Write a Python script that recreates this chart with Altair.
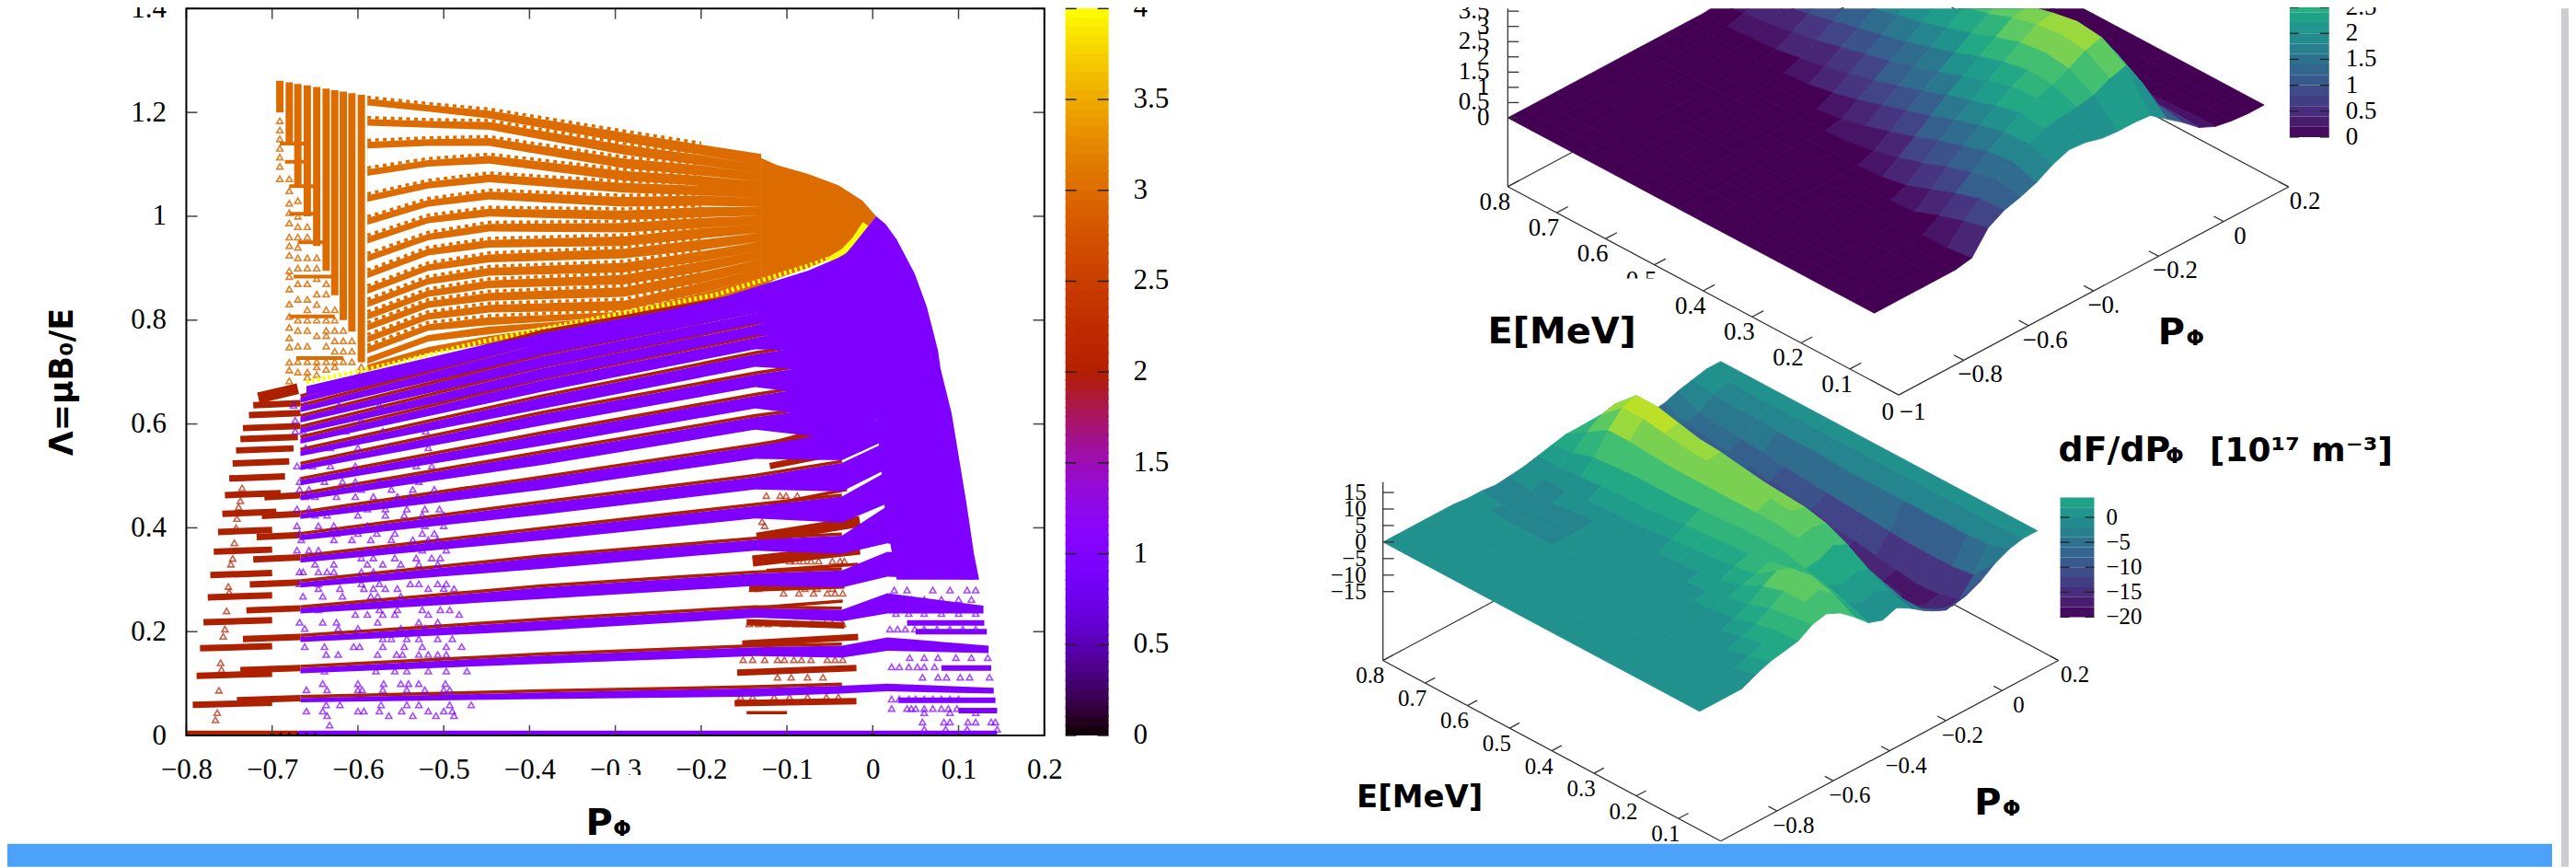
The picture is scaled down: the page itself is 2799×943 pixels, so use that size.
import math
import altair as alt
import pandas as pd

W, H = 2791, 935
M = 8
SERIF = "Liberation Serif"
BOLD = "DejaVu Sans"
PURPLE, RED, ORANGE, YELLOW = "#7f00ff", "#ae2100", "#dc6b00", "#ffff00"

# ---------- left panel data (P_phi, Lambda) ----------
band_P = [-0.667, -0.386, -0.137, -0.036, 0.017]
band_top = [
    [0.072, 0.083, 0.091, 0.096, 0.100], [0.130, 0.154, 0.170, 0.173, 0.189],
    [0.190, 0.221, 0.245, 0.242, 0.274], [0.245, 0.285, 0.312, 0.318, 0.354],
    [0.295, 0.343, 0.377, 0.385, 0.442], [0.343, 0.396, 0.442, 0.460, 0.509],
    [0.386, 0.447, 0.498, 0.525, 0.566], [0.427, 0.495, 0.557, 0.585, 0.615],
    [0.463, 0.543, 0.613, 0.635, 0.663], [0.492, 0.580, 0.654, 0.680, 0.710],
    [0.521, 0.619, 0.695, 0.720, 0.750], [0.548, 0.651, 0.734, 0.760, 0.790],
    [0.572, 0.684, 0.766, 0.800, 0.830], [0.592, 0.707, 0.790, 0.830, 0.860],
    [0.613, 0.730, 0.813, 0.855, 0.890], [0.633, 0.755, 0.833, 0.875, 0.920],
    [0.651, 0.775, 0.850, 0.895, 0.950],
]
band_bot = [
    [0.064, 0.070, 0.075, 0.081, 0.085], [0.120, 0.138, 0.153, 0.150, 0.163],
    [0.180, 0.202, 0.227, 0.220, 0.235], [0.235, 0.263, 0.288, 0.285, 0.306],
    [0.285, 0.321, 0.356, 0.350, 0.370], [0.333, 0.376, 0.418, 0.410, 0.447],
    [0.376, 0.425, 0.474, 0.470, 0.514], [0.417, 0.473, 0.533, 0.530, 0.570],
    [0.453, 0.521, 0.589, 0.570, 0.620], [0.482, 0.558, 0.630, 0.610, 0.667],
    [0.511, 0.597, 0.671, 0.650, 0.712], [0.538, 0.629, 0.710, 0.700, 0.750],
    [0.562, 0.662, 0.744, 0.740, 0.790], [0.582, 0.686, 0.770, 0.775, 0.825],
    [0.603, 0.709, 0.793, 0.800, 0.860], [0.623, 0.733, 0.813, 0.820, 0.890],
    [0.641, 0.755, 0.830, 0.840, 0.920],
]
right_P = [0.141, 0.135, 0.129, 0.118, 0.110]
right_top = [0.092, 0.173, 0.250, 0.341, 0.412]
right_bot = [0.081, 0.159, 0.235, 0.300, 0.340]

cap_P = [-0.66, -0.447, -0.29, -0.183, -0.076, -0.033, 0.0]
cap_top = [0.673, 0.755, 0.800, 0.840, 0.895, 0.925, 0.985]
cap_bot = [0.655, 0.735, 0.780, 0.815, 0.860, 0.890, 0.950]

hull_P = [-0.05, -0.03, -0.012, 0.004, 0.015, 0.028, 0.049, 0.063, 0.076, 0.079, 0.092, 0.10, 0.109, 0.118, 0.124]
hull_top = [0.91, 0.93, 0.967, 1.0, 0.985, 0.955, 0.889, 0.826, 0.742, 0.707, 0.62, 0.54, 0.45, 0.35, 0.30]
hull_bot = [0.86, 0.78, 0.70, 0.62, 0.42, 0.30, 0.30, 0.30, 0.30, 0.30, 0.30, 0.30, 0.30, 0.30, 0.30]

strip_P = [-0.7925, -0.788, -0.784, -0.78, -0.775, -0.772, -0.768, -0.763, -0.758, -0.755, -0.75, -0.746, -0.742, -0.737, -0.734, -0.727, -0.722]
strip_L = [0.059, 0.115, 0.168, 0.218, 0.266, 0.309, 0.354, 0.392, 0.427, 0.463, 0.495, 0.524, 0.549, 0.571, 0.592, 0.617, 0.636]
strip_end = [-0.70, -0.70, -0.70, -0.70, -0.70, -0.70, -0.70, -0.70, -0.695, -0.69, -0.685, -0.68, -0.675, -0.67, -0.667, -0.667, -0.667]
main_P = [-0.741, -0.737, -0.734, -0.73, -0.726, -0.722, -0.718, -0.712, -0.709]

blocks_thick = [  # P0, L0, P1, L1
    (-0.161, 0.062, -0.019, 0.066), (-0.158, 0.121, -0.019, 0.130), (-0.152, 0.177, -0.017, 0.190),
    (-0.144, 0.283, -0.033, 0.289), (-0.147, 0.218, -0.033, 0.212), (-0.12, 0.519, -0.012, 0.554),
]
blocks_wedge = [
    (-0.14, 0.336, -0.015, 0.359), (-0.135, 0.38, -0.015, 0.412), (-0.115, 0.557, -0.019, 0.601),
    (-0.094, 0.616, -0.019, 0.654), (-0.716, 0.650, -0.67, 0.668),
]
blocks_thin = [
    (-0.147, 0.044, -0.10, 0.044), (-0.129, 0.247, -0.035, 0.259), (-0.124, 0.318, -0.017, 0.330),
    (-0.119, 0.445, -0.03, 0.474), (-0.104, 0.666, -0.013, 0.704), (-0.094, 0.707, -0.022, 0.74),
    (-0.09, 0.742, -0.03, 0.778),
]
purple_rows = [(0.048, 0.10, 0.145), (0.068, 0.03, 0.143), (0.130, 0.08, 0.138), (0.200, 0.05, 0.133), (0.217, 0.04, 0.130)]

curve_P = [-0.589, -0.518, -0.447, -0.29, -0.2, -0.13]
curve_thick = [0.0125, 0.0125, 0.015, 0.0185, 0.0195, 0.03]
curves = [
    [1.220, 1.208, 1.196, 1.152, 1.128, 1.105], [1.181, 1.177, 1.174, 1.128, 1.108, 1.090], [1.137, 1.142, 1.143, 1.102, 1.088, 1.075],
    [1.084, 1.102, 1.109, 1.078, 1.068, 1.059], [1.034, 1.060, 1.073, 1.055, 1.050, 1.043], [0.990, 1.025, 1.040, 1.028, 1.030, 1.027],
    [0.954, 0.993, 1.007, 1.002, 1.008, 1.010], [0.919, 0.960, 0.978, 0.978, 0.987, 0.993], [0.887, 0.931, 0.947, 0.952, 0.967, 0.977],
    [0.857, 0.901, 0.919, 0.928, 0.945, 0.960], [0.831, 0.875, 0.893, 0.901, 0.923, 0.943], [0.807, 0.851, 0.869, 0.878, 0.903, 0.926],
    [0.786, 0.830, 0.845, 0.854, 0.882, 0.909], [0.763, 0.807, 0.822, 0.828, 0.862, 0.890], [0.742, 0.786, 0.798, 0.807, 0.842, 0.872],
    [0.722, 0.765, 0.780, 0.806, 0.842, 0.872], [0.708, 0.742, 0.762, 0.805, 0.842, 0.872],
]
fan_P = [-0.13, -0.112, -0.076, -0.04, -0.012, 0.004]
fan_top = [1.112, 1.099, 1.082, 1.06, 1.03, 1.0]
fan_bot = [0.864, 0.88, 0.90, 0.925, 0.967, 1.0]

col_P = [-0.691, -0.68, -0.67, -0.659, -0.648, -0.637, -0.627, -0.617, -0.607, -0.596]
col_top = [1.261, 1.258, 1.255, 1.252, 1.249, 1.246, 1.243, 1.24, 1.237, 1.234]
col_bot = [1.20, 1.143, 1.06, 1.0, 0.943, 0.895, 0.848, 0.80, 0.778, 0.719]
orange_bars = [(1.14, -0.691, -0.657), (1.105, -0.685, -0.657), (1.058, -0.68, -0.645), (1.005, -0.68, -0.645),
               (0.95, -0.67, -0.637), (0.884, -0.675, -0.627), (0.807, -0.68, -0.627), (0.727, -0.672, -0.617)]
orange_cols = {
    -0.691: [1.184, 1.166, 1.149, 1.131, 1.114, 1.096, 1.072],
    -0.68: [1.072, 1.049, 1.025, 1.007, 0.987, 0.96, 0.943, 0.925, 0.895, 0.884, 0.86, 0.831, 0.807, 0.786, 0.766, 0.748, 0.719, 0.704, 0.683],
    -0.67: [1.03, 1.0, 0.98, 0.96, 0.94, 0.92, 0.90, 0.87, 0.84, 0.80, 0.78, 0.75, 0.72, 0.70],
    -0.659: [0.98, 0.96, 0.92, 0.90, 0.87, 0.84, 0.82, 0.80, 0.78, 0.75, 0.72, 0.70, 0.69],
    -0.648: [0.92, 0.90, 0.88, 0.85, 0.83, 0.80, 0.77, 0.72, 0.71, 0.695],
    -0.637: [0.87, 0.85, 0.82, 0.80, 0.78, 0.77, 0.75, 0.72, 0.705],
    -0.627: [0.82, 0.80, 0.78, 0.76, 0.74, 0.72, 0.71],
    -0.617: [0.78, 0.76, 0.74, 0.72],
    -0.607: [0.76, 0.74, 0.72],
    -0.596: [0.71, 0.70],
}
yellow_P = [-0.66, -0.6, -0.54, -0.457, -0.397, -0.35, -0.268, -0.183, -0.076, -0.05]
yellow_L = [0.681, 0.701, 0.724, 0.758, 0.779, 0.794, 0.821, 0.849, 0.904, 0.919]
yellow_solid_P = [-0.05, -0.033, -0.02, -0.008]
yellow_solid_L = [0.915, 0.932, 0.955, 0.985]

purple_tri = {
    0.020: [-0.633], 0.038: [-0.636, -0.564, -0.536, -0.509, -0.488],
    0.047: [-0.66, -0.641, -0.6, -0.593, -0.575, -0.549, -0.518, -0.5, -0.49],
    0.059: [-0.637, -0.621, -0.573, -0.543, -0.529, -0.493, -0.468],
    0.088: [-0.66, -0.636, -0.6, -0.595, -0.571, -0.543, -0.522, -0.5, -0.493],
    0.100: [-0.641, -0.6, -0.57, -0.55, -0.541, -0.529, -0.498],
    0.112: [-0.668, -0.639, -0.621, -0.605, -0.575, -0.568, -0.529],
    0.124: [-0.639, -0.579, -0.557, -0.543, -0.518, -0.497, -0.473],
    0.156: [-0.637, -0.623, -0.577, -0.555, -0.548, -0.529, -0.518, -0.507, -0.497],
    0.171: [-0.662, -0.639, -0.605, -0.598, -0.571, -0.546, -0.525, -0.497, -0.479],
    0.186: [-0.571, -0.561, -0.543, -0.529, -0.507, -0.49],
    0.206: [-0.662, -0.623, -0.6, -0.55, -0.522, -0.482],
    0.218: [-0.668, -0.641, -0.625, -0.577, -0.529, -0.507],
    0.233: [-0.603, -0.589, -0.571, -0.557, -0.518, -0.482],
    0.242: [-0.646, -0.575, -0.554, -0.525, -0.504, -0.493],
    0.268: [-0.664, -0.641, -0.618, -0.585, -0.577, -0.55],
    0.283: [-0.646, -0.621, -0.593, -0.582, -0.568, -0.554, -0.518, -0.5, -0.488],
    0.292: [-0.668, -0.646, -0.596, -0.575, -0.539, -0.529, -0.507, -0.497],
    0.315: [-0.668, -0.664, -0.646, -0.636, -0.628, -0.596, -0.582, -0.554, -0.511, -0.491],
    0.330: [-0.65, -0.628, -0.589, -0.571, -0.55, -0.529, -0.507],
    0.342: [-0.596, -0.582, -0.557, -0.532, -0.514, -0.504],
    0.357: [-0.671, -0.657, -0.646, -0.589, -0.561, -0.525, -0.497],
    0.377: [-0.666, -0.628, -0.607, -0.585, -0.561, -0.536, -0.518, -0.507],
    0.389: [-0.668, -0.625, -0.6, -0.578, -0.557, -0.525, -0.511],
    0.404: [-0.671, -0.646, -0.628, -0.589, -0.568, -0.55, -0.522, -0.5],
    0.424: [-0.65, -0.636, -0.6, -0.568, -0.546, -0.525, -0.5],
    0.436: [-0.671, -0.657, -0.618, -0.589, -0.568, -0.543, -0.522, -0.505],
    0.460: [-0.661, -0.65, -0.625, -0.603, -0.582, -0.554, -0.539, -0.518],
    0.474: [-0.668, -0.657, -0.618, -0.596, -0.561, -0.536, -0.511],
    0.489: [-0.668, -0.639, -0.618, -0.603, -0.575, -0.529],
    0.519: [-0.671, -0.653, -0.632, -0.603, -0.561, -0.532, -0.514],
    0.554: [-0.661, -0.632, -0.6, -0.564, -0.518],
    0.586: [-0.673, -0.664, -0.614, -0.571, -0.521],
    0.607: [-0.673, -0.596, -0.568],
    0.636: [-0.675, -0.661, -0.622, -0.575, -0.546],
    # right-hand cloud
    0.026: [0.058, 0.083, 0.09, 0.111, 0.12, 0.138, 0.143],
    0.044: [0.06, 0.09, 0.12],
    0.052: [0.022, 0.04, 0.045, 0.05, 0.06, 0.07, 0.08, 0.088, 0.098],
    0.070: [0.022, 0.031, 0.042, 0.05, 0.06, 0.07, 0.08, 0.09, 0.10],
    0.112: [0.058, 0.076, 0.086, 0.102, 0.113, 0.136],
    0.132: [0.022, 0.031, 0.042, 0.052, 0.06, 0.072],
    0.150: [0.043, 0.06, 0.076, 0.097, 0.115, 0.134],
    0.205: [0.02, 0.029, 0.038, 0.049, 0.06, 0.075, 0.09, 0.105, 0.12],
    0.235: [0.027, 0.042, 0.06, 0.08, 0.10, 0.12],
    0.012: [0.06, 0.085, 0.11, 0.145],
    0.262: [0.02, 0.03, 0.045, 0.06, 0.08, 0.10, 0.115],
    0.280: [0.025, 0.04, 0.07, 0.09, 0.11, 0.12],
}
red_tri = {
    0.112: [-0.111, -0.095, -0.076, -0.058],
    0.146: [-0.151, -0.14, -0.126, -0.111, -0.103, -0.092, -0.083, -0.072, -0.053, -0.044, -0.035],
    0.074: [-0.154, -0.14, -0.115, -0.097, -0.076, -0.054, -0.04],
    0.044: [-0.09, -0.083, -0.072, -0.063, -0.054, -0.049],
    0.215: [-0.144, -0.133, -0.122, -0.104, -0.09, -0.07, -0.056, -0.047, -0.035],
    0.229: [-0.069, -0.056],
    0.274: [-0.104, -0.086, -0.069, -0.053, -0.044, -0.035],
    0.283: [-0.14, -0.133, -0.079, -0.065, -0.047],
    0.336: [-0.097, -0.09, -0.081, -0.072, -0.063, -0.047, -0.038, -0.033],
    0.412: [-0.129], 0.404: [-0.126],
    0.462: [-0.124, -0.108, -0.101, -0.088],
    0.486: [-0.079, -0.069, -0.047, -0.037],
    # left edge
    0.477: [-0.735], 0.452: [-0.737], 0.440: [-0.739], 0.418: [-0.741], 0.400: [-0.742],
    0.371: [-0.744], 0.341: [-0.746], 0.330: [-0.748], 0.287: [-0.751], 0.276: [-0.75],
    0.240: [-0.753], 0.205: [-0.755], 0.191: [-0.757], 0.140: [-0.76], 0.127: [-0.759],
    0.087: [-0.762], 0.044: [-0.764], 0.030: [-0.766],
}
black_tri_P = [-0.70, -0.69, -0.68, -0.67, -0.66, -0.65, 0.0]

x_ticks = [-0.8, -0.7, -0.6, -0.5, -0.4, -0.3, -0.2, -0.1, 0, 0.1, 0.2]
y_ticks = [0, 0.2, 0.4, 0.6, 0.8, 1, 1.2, 1.4]
cb_ticks = [0, 0.5, 1, 1.5, 2, 2.5, 3, 3.5, 4]
cb_levels = [i * 0.05 for i in range(80)]

# ---------- 3D surfaces: value z at (E, P) ----------
surf_P = [-1, -0.95, -0.9, -0.85, -0.8, -0.75, -0.7, -0.65, -0.6, -0.55, -0.5, -0.45, -0.4, -0.35, -0.3, -0.25, -0.2, -0.15, -0.1, -0.05, 0, 0.05, 0.1, 0.15, 0.2]
surf_E = [0.05, 0.1, 0.15, 0.2, 0.25, 0.3, 0.35, 0.4, 0.45, 0.5, 0.55, 0.6, 0.65, 0.7, 0.75, 0.8]
# F: columns for P from -0.75 upward (everything to the left of that is flat at 0)
F_vals = [
    [0, .1, .8, 1.1, 1.25, 1.45, 1.75, 1.95, 1.9, 1.75, 1.7, 1.7, 1.65, 1.25, .85, .4, .15, .05, 0, 0],
    [0, 0, .6, 1.05, 1.4, 1.7, 2.0, 2.2, 2.3, 2.35, 2.45, 2.7, 2.85, 2.0, 1.0, .45, .15, .05, 0, 0],
    [0, 0, .35, .8, 1.2, 1.6, 1.95, 2.3, 2.5, 2.65, 2.9, 3.2, 3.35, 2.5, 1.15, .4, .1, 0, 0, 0],
    [0, 0, .05, .5, .95, 1.35, 1.75, 2.1, 2.45, 2.7, 3.0, 3.3, 3.45, 2.6, 1.1, .3, .05, 0, 0, 0],
    [0, 0, 0, .2, .65, 1.1, 1.5, 1.85, 2.2, 2.55, 2.9, 3.2, 3.3, 2.5, 1.0, .25, 0, 0, 0, 0],
    [0, 0, 0, .05, .4, .8, 1.2, 1.6, 1.95, 2.3, 2.65, 3.0, 3.1, 2.4, .9, .2, 0, 0, 0, 0],
    [0, 0, 0, 0, .2, .55, .95, 1.3, 1.65, 2.0, 2.35, 2.7, 2.9, 2.3, .85, .2, 0, 0, 0, 0],
    [0, 0, 0, 0, .05, .3, .7, 1.05, 1.4, 1.75, 2.1, 2.5, 2.75, 2.15, .8, .15, 0, 0, 0, 0],
    [0, 0, 0, 0, 0, .1, .45, .8, 1.15, 1.5, 1.85, 2.25, 2.55, 2.0, .75, .15, 0, 0, 0, 0],
    [0, 0, 0, 0, 0, 0, .25, .6, .95, 1.3, 1.65, 2.0, 2.35, 1.9, .7, .1, 0, 0, 0, 0],
    [0, 0, 0, 0, 0, 0, .1, .4, .75, 1.1, 1.45, 1.8, 2.15, 1.75, .65, .1, 0, 0, 0, 0],
    [0, 0, 0, 0, 0, 0, .05, .25, .55, .9, 1.25, 1.6, 1.95, 1.6, .6, .1, 0, 0, 0, 0],
    [0, 0, 0, 0, 0, 0, 0, .1, .4, .7, 1.05, 1.4, 1.75, 1.45, .55, .1, 0, 0, 0, 0],
    [0, 0, 0, 0, 0, 0, 0, .05, .25, .55, .85, 1.2, 1.55, 1.3, .5, .05, 0, 0, 0, 0],
    [0, 0, 0, 0, 0, 0, 0, 0, .15, .4, .7, 1.0, 1.35, 1.15, .45, .05, 0, 0, 0, 0],
    [0, 0, 0, 0, 0, 0, 0, 0, .05, .3, .55, .85, 1.15, 1.0, .4, .05, 0, 0, 0, 0],
]
F_flat = 5
# G: columns for P from -0.85 upward
G_vals = [
    [0, 2, 3.6, 4.5, 5.3, 8, 9, 7, 3.5, -.5, -2, -.5, -3, -6, -8, -9, -8, -6, -3, -1, 0, 0],
    [0, .5, 2, 3.5, 5, 7, 9, 10.5, 7, 2, 0, 1, -1, -6, -11, -14, -16, -15, -10, -3, -.5, 0],
    [0, 0, .5, 2, 3.5, 6, 9, 12, 9, 4, 2, 3, 2, -4, -11, -16, -18, -17, -11, -3.5, -.5, 0],
    [0, 0, 0, .5, 2, 4, 7, 9.5, 8, 5.5, 6, 8, 6, -2, -10, -16, -18.5, -17.5, -11, -3.5, -.5, 0],
    [0, 0, 0, 0, 1, 2.5, 4, 5, 6.5, 7.5, 9, 10, 9, 0, -9, -15, -17.5, -16.5, -11, -3.5, -.5, 0],
    [0, 0, 0, 0, .5, 1, 2, 4, 5.5, 7.5, 10, 11.5, 10.5, 1.5, -8, -14, -16.5, -15.5, -10.5, -3.5, -.5, 0],
    [0, 0, 0, 0, 0, .5, 1, 3, 5, 7.5, 10, 12, 11, 2, -7, -13, -15.5, -14.5, -10, -3.5, -.5, 0],
    [0, 0, 0, 0, 0, 0, .5, 2.5, 4.5, 7, 10, 12.5, 11.5, 3, -6, -12, -14.5, -13.5, -9.5, -3.5, -.5, 0],
    [0, 0, 0, 0, 0, 0, 0, 2, 4, 6.5, 10, 13, 12.5, 4, -5, -11, -13, -12, -9, -3.5, -.5, 0],
    [0, 0, 0, 0, 0, 0, 0, 1, 3, 6, 10, 13, 13.5, 5, -4.5, -10.5, -12, -11, -8.5, -3, -.5, 0],
    [0, 0, 0, -.5, -.5, -.5, -.5, .5, 2.5, 6, 10, 13.5, 14, 6, -4, -10, -11, -10, -8, -3, -.5, 0],
    [0, 0, -.5, -1, -1, -1, -.5, .5, 2.5, 6, 10.5, 14.5, 15.5, 7, -3, -9, -10, -9, -7, -3, -.5, 0],
    [0, 0, -.5, -1, -1.5, -2, -1, 0, 2, 5.5, 11, 15.5, 17, 8, -2.5, -8, -9, -8, -6.5, -2.5, -.5, 0],
    [0, 0, -.5, -1, -2, -2.5, -2, -.5, 1.5, 5, 11, 15.5, 17, 7.5, -2, -7, -8, -7, -6, -2.5, -.5, 0],
    [0, 0, -.5, -.5, -1.5, -2, -1.5, -.5, 1, 3, 7, 10, 11, 4, -2, -6, -7, -6, -5, -2, -.5, 0],
    [0, 0, 0, -.5, -.5, -1, -.5, 0, 1, 2, 3, 3, 2.5, 1, -1, -3, -4, -3.5, -2, -1, 0, 0],
]
G_flat = 3
E_ticks = [0.1, 0.2, 0.3, 0.4, 0.5, 0.6, 0.7, 0.8]
P_ticks = [-0.8, -0.6, -0.4, -0.2, 0, 0.2]
F_z_ticks = [0, 0.5, 1, 1.5, 2, 2.5, 3, 3.5]
G_z_ticks = [-15, -10, -5, 0, 5, 10, 15]
F_cb_ticks = [0, 0.5, 1, 1.5, 2, 2.5]
G_cb_ticks = [-20, -15, -10, -5, 0]

# ---------- scales ----------
xs = alt.Scale(domain=[-0.8, 0.2], range=[195, 1130])
ys = alt.Scale(domain=[0, 1.4], range=[792, 0])
one = pd.DataFrame({"a": [0]})
layers = []


def X(f="P"):
    return alt.X(f"{f}:Q", scale=xs, axis=None)


def Y(f="L"):
    return alt.Y(f"{f}:Q", scale=ys, axis=None)


def add_segs(rows, color, width):
    df = pd.DataFrame(rows, columns=["P0", "L0", "P1", "L1"])
    layers.append(alt.Chart(df).mark_rule(color=color, strokeWidth=width).encode(
        x=X("P0"), y=Y("L0"), x2="P1:Q", y2="L1:Q"))


def add_tri(table, color, size=46):
    df = pd.DataFrame([{"L": k, "P": p} for k, v in table.items() for p in v])
    layers.append(alt.Chart(df).mark_point(shape="triangle-up", filled=False, color=color, size=size, strokeWidth=1.6).encode(x=X(), y=Y()))


# orange family: an envelope with white slits between neighbouring curves
env = pd.DataFrame({"P": curve_P,
                    "t": [c + w / 2 for c, w in zip(curves[0], curve_thick)],
                    "b": [c - w / 2 for c, w in zip(curves[-1], curve_thick)]})
layers.append(alt.Chart(env).mark_area(color=ORANGE).encode(x=X(), y=Y("t"), y2="b:Q"))
slits = []
for i in range(len(curves) - 1):
    for k, p in enumerate(curve_P):
        mid = (curves[i][k] + curves[i + 1][k]) / 2
        half = max(0.0, (curves[i][k] - curves[i + 1][k] - curve_thick[k]) / 2)
        slits.append({"g": i, "P": p, "t": mid + half, "b": mid - half})
layers.append(alt.Chart(pd.DataFrame(slits)).mark_area(color="white").encode(x=X(), y=Y("t"), y2="b:Q", detail="g:N"))
teeth = pd.DataFrame([{"c": i, "P": curve_P[k], "L": c[k] + curve_thick[k] / 2 + 0.003} for i, c in enumerate(curves[:15]) for k in range(5)])
layers.append(alt.Chart(teeth).mark_line(color=ORANGE, strokeWidth=3.5, strokeDash=[4, 4.5]).encode(x=X(), y=Y(), detail="c:N"))
layers.append(alt.Chart(pd.DataFrame({"P": fan_P, "t": fan_top, "b": fan_bot})).mark_area(color=ORANGE).encode(x=X(), y=Y("t"), y2="b:Q"))
add_segs([(p, b, p, t) for p, b, t in zip(col_P, col_bot, col_top)], ORANGE, 8)
add_segs([(a, l, b, l) for l, a, b in orange_bars], ORANGE, 4)
df_o = pd.DataFrame([{"P": p, "L": l} for p, v in orange_cols.items() for l in v])
layers.append(alt.Chart(df_o).mark_point(shape="triangle-up", filled=False, color=ORANGE, size=46, strokeWidth=1.6, opacity=0.85).encode(x=X(), y=Y()))
layers.append(alt.Chart(pd.DataFrame({"P": yellow_P, "L": yellow_L})).mark_line(color=YELLOW, strokeWidth=5, strokeDash=[3, 3]).encode(x=X(), y=Y()))
layers.append(alt.Chart(pd.DataFrame({"P": yellow_solid_P, "L": yellow_solid_L})).mark_line(color=YELLOW, strokeWidth=8).encode(x=X(), y=Y()))

# red family
add_segs([(p, l, e, l + 0.004) for p, l, e in zip(strip_P, strip_L, strip_end)], RED, 7)
add_segs([(p, band_top[i][0] - 0.004, -0.667, band_top[i][0]) for i, p in enumerate(main_P)], RED, 7)
add_segs(blocks_thick, RED, 7)
add_segs(blocks_wedge, RED, 12)
add_segs(blocks_thin, RED, 3.5)
add_tri(red_tri, RED)
red_lines = pd.DataFrame([{"b": i, "P": p, "L": t + 0.003} for i, r in enumerate(band_top) for p, t in zip(band_P[:4], r[:4])])
layers.append(alt.Chart(red_lines).mark_line(color=RED, strokeWidth=3.5).encode(x=X(), y=Y(), detail="b:N"))
add_segs([(-0.8, 0.004, -0.67, 0.004)], RED, 6)

# purple family
add_tri(purple_tri, PURPLE)
bands = []
for i, (t, b) in enumerate(zip(band_top, band_bot)):
    for p, tv, bv in zip(band_P, t, b):
        bands.append({"b": i, "P": p, "t": tv, "u": bv})
    if i < len(right_P):
        bands.append({"b": i, "P": right_P[i], "t": right_top[i], "u": right_bot[i]})
layers.append(alt.Chart(pd.DataFrame(bands)).mark_area(color=PURPLE).encode(x=X(), y=Y("t"), y2="u:Q", detail="b:N"))
layers.append(alt.Chart(pd.DataFrame({"P": cap_P, "t": cap_top, "b": cap_bot})).mark_area(color=PURPLE).encode(x=X(), y=Y("t"), y2="b:Q"))
layers.append(alt.Chart(pd.DataFrame({"P": hull_P, "t": hull_top, "b": hull_bot})).mark_area(color=PURPLE).encode(x=X(), y=Y("t"), y2="b:Q"))
add_segs([(a, l, b, l) for l, a, b in purple_rows], PURPLE, 6)
add_segs([(-0.67, 0.004, 0.145, 0.004)], PURPLE, 6)
layers.append(alt.Chart(pd.DataFrame({"P": black_tri_P, "L": [0.004] * len(black_tri_P)})).mark_point(shape="triangle-up", filled=True, color="black", size=22).encode(x=X(), y=Y()))

# frame, inward ticks, real axes
tick_rows = [(v, 0, v, 0.02) for v in x_ticks] + [(v, 1.4, v, 1.38) for v in x_ticks] + \
            [(-0.8, v, -0.787, v) for v in y_ticks] + [(0.2, v, 0.187, v) for v in y_ticks]
add_segs(tick_rows, "#444444", 1.5)
layers.append(alt.Chart(pd.DataFrame({"P0": [-0.8], "P1": [0.2], "L0": [0], "L1": [1.4]})).mark_rect(fillOpacity=0, stroke="black", strokeWidth=2).encode(x=X("P0"), x2="P1:Q", y=Y("L0"), y2="L1:Q"))
layers.append(alt.Chart(pd.DataFrame({"P": x_ticks, "L": [0] * len(x_ticks)})).mark_point(opacity=0).encode(
    x=alt.X("P:Q", scale=xs, axis=alt.Axis(values=x_ticks, format=".1~f", offset=792 - H, domain=False, ticks=False, grid=False, title=None,
                                           labelFont=SERIF, labelFontSize=31, labelColor="black", labelPadding=23, labelOverlap=False, labelFlush=False)),
    y=alt.Y("L:Q", scale=ys, axis=alt.Axis(values=y_ticks, format=".1~f", offset=-195, domain=False, ticks=False, grid=False, title=None,
                                           labelFont=SERIF, labelFontSize=31, labelColor="black", labelPadding=22, labelOverlap=False, labelFlush=False))))


# left colour bar: gnuplot palette
def pal(v):
    t = v / 4
    r, g, b = math.sqrt(t), t ** 3, max(0.0, math.sin(2 * math.pi * t))
    return "#%02x%02x%02x" % (int(r * 255), int(g * 255), int(b * 255))


cb_y = alt.Scale(domain=[0, 4], range=[792, 0])
cb_df = pd.DataFrame({"v": cb_levels, "w": [v + 0.06 if v < 3.9 else 4 for v in cb_levels], "c": [pal(v + 0.025) for v in cb_levels]})
layers.append(alt.Chart(cb_df).mark_rect().encode(x=alt.value(1153), x2=alt.value(1200), y=alt.Y("v:Q", scale=cb_y, axis=None), y2="w:Q",
                                                   color=alt.Color("c:N", scale=None, legend=None)))
for a, b in [(1153, 1165), (1188, 1200)]:
    layers.append(alt.Chart(pd.DataFrame({"v": cb_ticks})).mark_rule(color="#222222", strokeWidth=1.5).encode(x=alt.value(a), x2=alt.value(b), y=alt.Y("v:Q", scale=cb_y, axis=None)))
layers.append(alt.Chart(pd.DataFrame({"v": cb_ticks, "t": ["0", "0.5", "1", "1.5", "2", "2.5", "3", "3.5", "4"]})).mark_text(
    font=SERIF, fontSize=31, align="left", baseline="middle", color="black").encode(x=alt.value(1227), y=alt.Y("v:Q", scale=cb_y, axis=None), text="t:N"))


# ---------- 3D panels ----------
def pid(f):
    return alt.X(f"{f}:Q", scale=None)


def pidy(f):
    return alt.Y(f"{f}:Q", scale=None)


def add_lines(rows, color="#333333", width=1.3):
    df = pd.DataFrame(rows, columns=["x0", "y0", "x1", "y1"])
    layers.append(alt.Chart(df).mark_rule(color=color, strokeWidth=width).encode(x=pid("x0"), y=pidy("y0"), x2="x1:Q", y2="y1:Q"))


def add_text(rows, font, size, weight="normal", align="center", color="black", angle=0):
    df = pd.DataFrame(rows, columns=["x", "y", "t"])
    layers.append(alt.Chart(df).mark_text(font=font, fontSize=size, fontWeight=weight, align=align, baseline="middle", color=color, angle=angle).encode(
        x=pid("x"), y=pidy("y"), text="t:N"))


def fmt(v):
    return f"{v:g}".replace("-", "\u2212")


def panel(vals, flat, O, e, p, zero_shift, zs, z_ticks, step, dom, label_size, z_label_right, z_top):
    vals = [[0] * flat + row for row in vals]

    def floor(E, P):
        return (O[0] + E * e[0] + (P + 1) * p[0] - M, O[1] + E * e[1] + (P + 1) * p[1] - M)

    def surf(E, P, z):
        xf, yf = floor(E, P)
        return (xf, yf - zero_shift - z * zs)

    A, B, C = floor(0.8, -1), floor(0, -1), floor(0, 0.2)
    D = floor(0.8, 0.2)
    add_lines([(*A, *B), (*B, *C), (*A, *D), (*C, *D)])
    add_lines([(A[0], A[1], A[0], z_top)], "#222222", 1.2)
    feats = []
    nE, nP = len(surf_E), len(surf_P)
    for i in reversed(range(nE - 1)):
        for j in reversed(range(nP - 1)):
            corners = [(i, j), (i + 1, j), (i + 1, j + 1), (i, j + 1)]
            z = sum(vals[a][b] for a, b in corners) / 4
            ring = [list(surf(surf_E[a], surf_P[b], vals[a][b])) for a, b in corners]
            ring.append(ring[0])
            feats.append({"type": "Feature", "geometry": {"type": "Polygon", "coordinates": [ring]},
                          "properties": {"c": round(z / step) * step}})
    sc = alt.Scale(scheme="viridis", domain=dom)
    layers.append(alt.Chart(alt.Data(values=feats)).mark_geoshape(strokeWidth=0.8).encode(
        color=alt.Color("properties.c:Q", scale=sc, legend=None),
        stroke=alt.Stroke("properties.c:Q", scale=sc, legend=None)
    ).project(type="identity", scale=1, translate=[0, 0]))
    rows = []
    txt = []
    for v in E_ticks:
        a = floor(v, -1)
        rows.append((*a, a[0] + p[0] * 0.035, a[1] + p[1] * 0.035))
        txt.append((a[0] - 14, a[1] + 17, fmt(v)))
    for v in P_ticks:
        a = floor(0, v)
        rows.append((*a, a[0] + e[0] * 0.02, a[1] + e[1] * 0.02))
        txt.append((a[0] + 18, a[1] + 16, fmt(v)))
    txt.append((B[0] - 12, B[1] + 19, "0"))
    txt.append((B[0] + 15, B[1] + 19, "\u22121"))
    add_lines(rows)
    add_text(txt, SERIF, label_size)
    zr, zl = [], []
    for v in z_ticks:
        y = A[1] - zero_shift - v * zs
        zr.append((A[0], y, A[0] + 12, y))
        zl.append((z_label_right, y, fmt(v)))
    add_lines(zr)
    add_text(zl, SERIF, label_size, align="right")


panel(F_vals, F_flat, (2069, 429), (-532.5, -283.75), (354, -189), 75, 33.2, F_z_ticks, 0.2, [0, 4], 27, 1615, 0)
panel(G_vals, G_flat, (1875, 915), (-460, -246), (306.7, -164), 129, 3.6, G_z_ticks, 2, [-20, 20], 25, 1481, 516)


def colorbar(levels, dz, dom_y, rng_y, x0, x1, dom_c, ticks, lx, size):
    s = alt.Scale(domain=dom_y, range=rng_y)
    df = pd.DataFrame({"v": levels, "w": [v + dz for v in levels]})
    layers.append(alt.Chart(df).mark_rect().encode(x=alt.value(x0), x2=alt.value(x1), y=alt.Y("v:Q", scale=s, axis=None), y2="w:Q",
                                                    color=alt.Color("c:Q", scale=alt.Scale(scheme="viridis", domain=dom_c), legend=None)).transform_calculate(c=f"datum.v+{dz/2}"))
    for a, b in [(x0, x0 + 10), (x1 - 10, x1)]:
        layers.append(alt.Chart(pd.DataFrame({"v": ticks})).mark_rule(color="#222222", strokeWidth=1.3).encode(x=alt.value(a), x2=alt.value(b), y=alt.Y("v:Q", scale=s, axis=None)))
    layers.append(alt.Chart(pd.DataFrame({"v": ticks, "t": [fmt(v) for v in ticks]})).mark_text(font=SERIF, fontSize=size, align="left", baseline="middle", color="black").encode(
        x=alt.value(lx), y=alt.Y("v:Q", scale=s, axis=None), text="t:N"))


colorbar([i * 0.2 for i in range(14)], 0.2, [0, 2.62], [140, -8], 2487, 2530, [0, 4], F_cb_ticks, 2548, 27)
colorbar([-20 + i * 2 for i in range(12)], 2, [-20, 3], [663, 538], 2237, 2274, [-20, 20], G_cb_ticks, 2287, 25)

# white patches that hide parts of three tick labels in the reference
mask = pd.DataFrame({"x0": [620, 1762, 2300], "x1": [705, 1805, 2325], "y0": [835, 294, 310], "y1": [852, 318, 340]})
layers.append(alt.Chart(mask).mark_rect(color="white").encode(x=pid("x0"), x2="x1:Q", y=pidy("y0"), y2="y1:Q"))

# titles
add_text([(60, 407, "\u039b=\u03bcB\u2080/E")], BOLD, 35, "bold", angle=270)
add_text([(645, 888, "P")], BOLD, 40, "bold")
add_text([(670, 894, "\u03a6")], BOLD, 23, "bold")
add_text([(1694, 353, "E[MeV]")], BOLD, 40, "bold")
add_text([(2358, 354, "P")], BOLD, 40, "bold")
add_text([(2384, 360, "\u03a6")], BOLD, 23, "bold")
add_text([(1539, 860, "E[MeV]")], BOLD, 34, "bold")
add_text([(2158, 866, "P")], BOLD, 40, "bold")
add_text([(2184, 872, "\u03a6")], BOLD, 23, "bold")
add_text([(2235, 482, "dF/dP")], BOLD, 38, "bold", align="left")
add_text([(2352, 488, "\u03a6")], BOLD, 23, "bold", align="left")
add_text([(2400, 482, "[10\u00b9\u2077 m\u207b\u00b3]")], BOLD, 36, "bold", align="left")

# page furniture
layers.append(alt.Chart(one).mark_rect(color="#4ba2f8").encode(x=alt.value(0), x2=alt.value(2773), y=alt.value(910), y2=alt.value(H)))
layers.append(alt.Chart(one).mark_rect(color="#cdcdcf").encode(x=alt.value(2783), x2=alt.value(W), y=alt.value(0), y2=alt.value(H)))

chart = alt.layer(*layers).resolve_scale(x="independent", y="independent", color="independent", stroke="independent").resolve_axis(x="independent", y="independent").properties(
    width=W, height=H, padding=0, autosize=alt.AutoSizeParams(type="none")).configure_view(stroke=None)
chart.save("out.html", embed_options={"renderer": "svg", "actions": False})
